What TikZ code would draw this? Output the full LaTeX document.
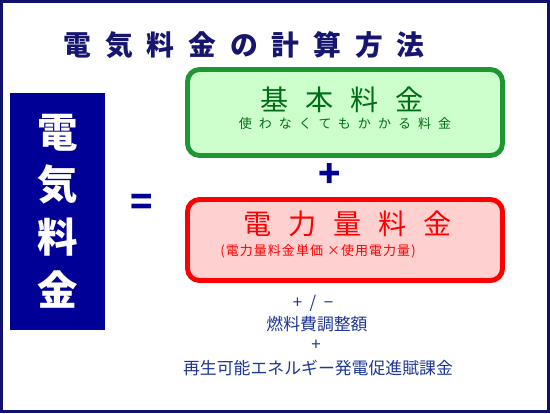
\documentclass[tikz,border=0pt]{standalone}
\usepackage{fontspec}
\newfontfamily\jp{Noto Sans CJK JP}
\usetikzlibrary{positioning}
\definecolor{framenavy}{RGB}{16,16,110}
\definecolor{boxnavy}{RGB}{0,0,150}
\definecolor{titlenavy}{RGB}{22,22,112}
\definecolor{basegreen}{RGB}{30,150,50}
\definecolor{basefill}{RGB}{204,255,204}
\definecolor{basetext}{RGB}{0,110,20}
\definecolor{usefill}{RGB}{255,208,208}
\definecolor{notetext}{RGB}{30,55,150}
\newcommand{\jpsize}[3]{\jp\fontsize{#1}{#2}\selectfont\addfontfeature{LetterSpace=#3}}
\tikzset{
  feebox/.style={rounded corners=0.24cm,line width=2.8pt,minimum width=6.3cm,inner sep=0pt},
  bigtext/.style={font=\jpsize{16}{16}{60},inner sep=0pt},
  smalltext/.style={inner sep=0pt},
  sign/.style={text=boxnavy,inner sep=0pt,font=\jpsize{21}{21}{0}\bfseries},
  note/.style={text=notetext,inner sep=0pt,font=\jpsize{9.6}{10}{0}}
}
\begin{document}
\begin{tikzpicture}[x=0.02cm,y=-0.02cm]
    \useasboundingbox (0,0) rectangle (550,413);
    \fill[white] (0,0) rectangle (550,413);
    \draw[framenavy,line width=1.7pt] (1.5,1.5) rectangle (548.5,411.5);
    \node[text=titlenavy,inner sep=0pt,font=\jpsize{15.8}{16}{50}\bfseries] (title) at (244,45) {電気料金の計算方法};
    % left side
    \node[fill=boxnavy,minimum width=1.9cm,minimum height=4.74cm,inner sep=0pt] (total) at (57.5,211.5) {};
    \node[text=white,align=center,inner sep=0pt,font=\jpsize{23}{30}{0}\bfseries] (totaltext) at (57.5,211) {電\\気\\料\\金};
    \node[sign] (equals) at (142,205) {=};
    % basic charge
    \node[feebox,draw=basegreen,fill=basefill,minimum height=1.72cm] (base) at (345,112.5) {};
    \node[bigtext,text=basetext] (basetitle) at (342,100) {基本料金};
    \node[smalltext,text=basetext,font=\jpsize{7.4}{8}{54}] (basesub) at (345,124) {使わなくてもかかる料金};
    \node[sign] (plus) at (330,176) {+};
    % energy charge
    \node[feebox,draw=red,fill=usefill,minimum height=1.62cm] (use) at (345,240) {};
    \node[bigtext,text=red] (usetitle) at (348,224) {電力量料金};
    \node[smalltext,text=red,font=\jpsize{7.4}{8}{8}] (usesub) at (318,251) {(電力量料金単価\ ×使用電力量)};
    % adjustments
    \node[note] (pm) at (313,303) {+\ \ /\ \ −};
    \node[note] (fuel) at (317,324) {燃料費調整額};
    \node[note] (plustwo) at (316,345) {+};
    \node[note] (renew) at (318,368) {再生可能エネルギー発電促進賦課金};
\end{tikzpicture}
\end{document}
